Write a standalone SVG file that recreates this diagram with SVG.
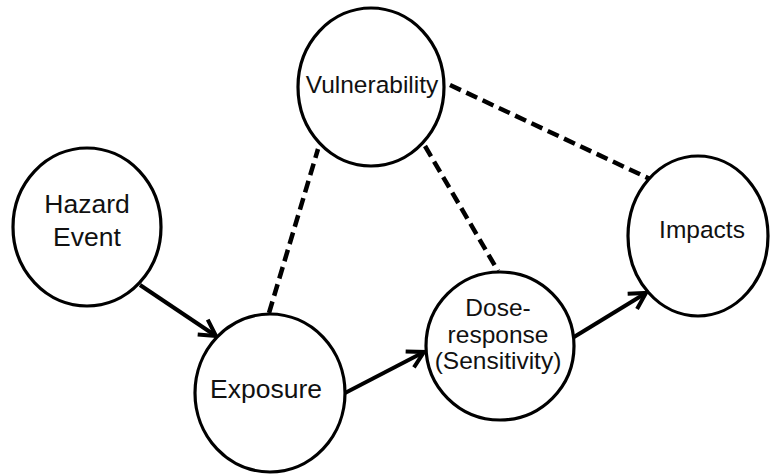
<svg xmlns="http://www.w3.org/2000/svg" width="770" height="474" viewBox="0 0 770 474">
<defs>
<style>
.node{fill:#fff;stroke:#000;stroke-width:3.2}
.lbl{font-family:"Liberation Sans",Arial,sans-serif;font-size:24.5px;fill:#111;text-anchor:middle}
.big{font-size:26.5px}
.solid{stroke:#000;stroke-width:4;fill:none}
.dash{stroke:#000;stroke-width:4.5;fill:none;stroke-dasharray:12 6}
</style>
<marker id="arr" markerUnits="userSpaceOnUse" markerWidth="26" markerHeight="26" viewBox="0 0 26 26" refX="21" refY="13" orient="auto">
<path d="M5,4 L21,13 L5,22" fill="none" stroke="#000" stroke-width="4" stroke-linejoin="miter"/>
</marker>
</defs>
<rect width="770" height="474" fill="#fff"/>
<g id="connectors">
<line class="solid" x1="140" y1="285" x2="216" y2="336" marker-end="url(#arr)"/>
<line class="solid" x1="345" y1="393" x2="424" y2="352" marker-end="url(#arr)"/>
<line class="solid" x1="574" y1="337" x2="646" y2="293" marker-end="url(#arr)"/>
<line class="dash" x1="269" y1="313" x2="318" y2="149"/>
<line class="dash" x1="425" y1="146" x2="498" y2="271"/>
<line class="dash" x1="450" y1="85" x2="650" y2="179"/>
</g>
<g id="vulnerability">
<ellipse class="node" cx="371" cy="87" rx="73" ry="79"/>
<text class="lbl" x="372" y="93">Vulnerability</text>
</g>
<g id="hazard">
<ellipse class="node" cx="87" cy="227" rx="74" ry="79"/>
<text class="lbl big" x="87" y="213">Hazard</text>
<text class="lbl big" x="87" y="246">Event</text>
</g>
<g id="exposure">
<ellipse class="node" cx="270" cy="393" rx="75" ry="79"/>
<text class="lbl big" x="266" y="398">Exposure</text>
</g>
<g id="dose">
<ellipse class="node" cx="500" cy="346" rx="74" ry="74"/>
<text class="lbl" x="498" y="316">Dose-</text>
<text class="lbl" x="498" y="343">response</text>
<text class="lbl" x="498" y="369">(Sensitivity)</text>
</g>
<g id="impacts">
<ellipse class="node" cx="698" cy="236" rx="70" ry="80"/>
<text class="lbl" x="702" y="238">Impacts</text>
</g>
</svg>
